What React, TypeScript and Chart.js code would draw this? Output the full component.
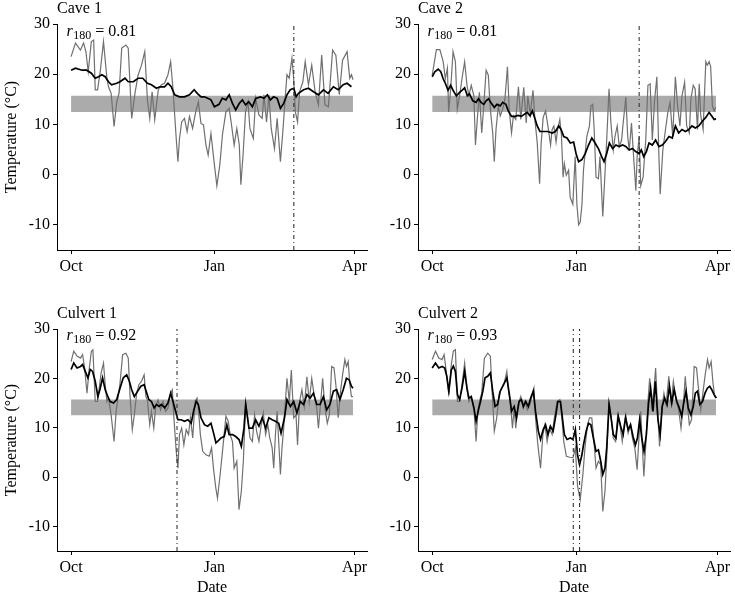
import React, { useEffect, useRef } from 'react';
import { Chart, registerables } from 'chart.js';

Chart.register(...registerables);

const FONT = '"Liberation Serif", "Times New Roman", serif';

// Days counted from 1 October; ticks and axis limits
const xTickDays = [0, 92, 182];
const xTickLabels = ['Oct', 'Jan', 'Apr'];
const yTicks = [-10, 0, 10, 20, 30];
const yLimits = [-15, 30];
const xLimits = [-9.05, 190.05];

// Shaded reference band (°C) and its day extent
const bandRange = [12.5, 15.7];
const bandDays = [0, 181];

// Correlation labels
const panelTitles = ['Cave 1', 'Cave 2', 'Culvert 1', 'Culvert 2'];
const rValues = ['0.81', '0.81', '0.92', '0.93'];

// Event days (dash-dot vertical lines)
const cave1Events = [143];
const cave2Events = [132];
const culvert1Events = [68];
const culvert2Events = [90, 94];

// Air temperature (grey) [day, °C]
const cave1Air: number[][] = [[0,23.5],[2.8,26.2],[6,24.8],[8,26.2],[9.5,24.5],[11,20.5],[13,26.5],[14.5,26.8],[15.5,16.9],[17,16.9],[18.7,20.5],[20.8,26.5],[23,19.2],[24,17.5],[25.7,16.2],[27.6,9.6],[29.3,14.5],[30.8,16.2],[32.5,25.2],[35.2,25.8],[36.7,25.2],[38.9,11.2],[41,16.2],[43,19.8],[45.2,21.8],[47.3,24.5],[49,14.9],[50.5,11.2],[52,16.5],[53.7,10.9],[56,16.9],[58,17.9],[60,18.2],[62.2,19.9],[63.9,22.5],[65.4,17.2],[67.5,7.2],[68.6,2.6],[69.6,7.2],[71,10.5],[72.8,11.2],[74.5,8.6],[76,11.6],[78,9.2],[80,12.5],[81.7,14.5],[83.4,10.2],[85,9.9],[86.6,5.9],[88,3.9],[89.8,8.2],[92,2],[93.6,-2.2],[95.5,2],[97.2,8],[99.4,12.5],[101.5,13.2],[103,9.9],[104.7,5.9],[106.4,9.2],[108,5.9],[109,-2],[110.4,3.9],[112,12.5],[113.6,14.5],[114.8,9.2],[117,7.2],[118.5,15.2],[120.6,11.9],[122.7,11.2],[123.8,15.9],[125.5,10.5],[127,15.9],[128.5,9.2],[130.6,5.2],[132.3,11.2],[134.4,2.6],[136.1,9.2],[137.6,15.9],[138.6,19.9],[140,19.2],[141.8,23.2],[142.9,19.2],[144,12.5],[145.4,10.5],[146.7,16.5],[148.8,18.5],[150.3,22.5],[152.4,17.9],[154.5,21.8],[156.7,16.5],[158.8,13.9],[160.9,23.8],[163,13.9],[165.2,13.5],[167.9,24.8],[170,23.8],[172.2,15.9],[174.3,22.8],[177.2,24.5],[178.9,19.2],[180,19.9],[181,18.9]];

const cave2Air: number[][] = [[0,19.8],[2.7,24.9],[4.9,24.9],[7,22.5],[8.4,19.1],[9.7,21.2],[10.5,12.5],[11.8,17.1],[13.3,24.5],[14.8,22.5],[16,13],[17.5,15.7],[19,19.1],[20.7,22.5],[22.2,17.8],[23.4,15.7],[24.9,17.8],[26.6,15.7],[27.6,5.9],[29.1,12.4],[30.1,16.4],[31.6,8.3],[32.9,13.7],[34.4,20.8],[35.8,19.8],[37.1,13],[38.6,8.3],[39.6,2.6],[40.7,9],[42.2,13.7],[43.4,11.7],[44.9,13],[46.4,15.1],[48,21.5],[49.1,13],[50.6,8.3],[51.8,11.7],[53.3,11],[55,17.5],[56.5,11],[58.4,17.4],[60,10.3],[61,15.7],[62.5,12],[64.3,16.8],[65.5,11],[67,6.3],[68.5,-1.8],[69.5,6.3],[70.8,11.4],[72.3,12.7],[73.8,9.7],[75.5,5.9],[76.5,9],[77.6,9.7],[79,6.5],[80,9],[81.4,11],[82.4,8],[83.5,-0.5],[84.3,2.2],[85.5,-0.1],[87,0.9],[88,-4.5],[89.7,-5.9],[91.2,3.6],[92.3,-6],[93.4,-10],[94.4,-9.5],[95.5,-6],[96.5,1],[98.6,7.6],[100.3,9.7],[101.2,13.7],[102.4,14],[103.3,9],[104.5,-0.5],[106,-0.8],[107,3.6],[108.8,-8.3],[110.2,0.2],[111.3,6.9],[112.8,17.1],[114,10.3],[115.5,4.9],[116.6,7.6],[118,9.7],[119.3,5.6],[120.8,6.9],[121.8,10.3],[123.5,15.4],[124.7,7.6],[125.7,4.9],[127.1,10.3],[128.6,2.9],[129.9,-3.2],[130.7,3.6],[132,7.6],[133,-2.2],[134.5,-0.5],[136.2,6.9],[137.6,17.8],[139,18.1],[140.4,6.9],[141.8,14.7],[143.3,19.5],[144.6,3.6],[145.4,-3.9],[147.1,4.9],[148.8,9],[150.3,12.4],[151.7,14.4],[153.4,7.6],[155.1,19.5],[156.5,13.7],[158,9.7],[159.3,15.7],[161,18.4],[162.3,9.7],[164,8.3],[165,15.1],[166.5,17.8],[167.7,17.1],[169.2,9],[170.3,18.1],[171.3,11.7],[172.8,9],[174.5,22.5],[175.5,21.8],[176.6,22.5],[177.6,21.5],[178.7,13.7],[179.8,12.7],[180.8,13.4]];

const culvert1Air: number[][] = [[0,23.4],[1.7,25.5],[3.8,24.5],[6,24.1],[7.4,24.8],[8.7,22.1],[10.2,17],[11.7,22.1],[13,25.5],[14,25.8],[15.5,15.3],[17,15.3],[18.3,18.7],[19.3,21.1],[20.8,23.1],[21.9,18.7],[23,15.3],[24,16],[25.7,12.6],[27.6,7.2],[28.9,13.3],[29.9,15.6],[31.4,19],[33.1,24.8],[35.2,25.1],[36.7,24.1],[37.8,16.7],[39.3,9.6],[40.6,12.6],[42,16.7],[43.5,18.7],[45.2,19.4],[46.9,20.7],[48,16.3],[49,15.6],[50.5,10.6],[51.6,13.3],[53.1,9.9],[54.3,14.3],[55.8,15.6],[57.5,13.6],[59,15.3],[60.7,13.3],[62.2,14],[63.9,17],[65,17.7],[66,12],[67.5,5.2],[68.6,1.8],[69.6,8.6],[71,9.9],[72.4,6.5],[73.9,9.6],[75.4,8.6],[76.6,12],[78.1,7.9],[79.6,15.3],[80.9,16],[81.7,14],[83,8.6],[84.5,5.2],[86.6,4.5],[88.7,4.2],[90.2,5.9],[91.4,1.8],[92.9,-2.2],[94,-4.3],[95.7,0.5],[97.2,5.2],[99.4,12.3],[100.9,11.3],[102.1,8.6],[103.6,7.2],[104.7,1.8],[106.4,3.2],[107.8,-6.6],[109.3,-2.9],[110.6,3.2],[112.1,15.3],[113.6,11.3],[114.9,7.9],[116.4,7.2],[117.8,12.6],[119.1,9.3],[120.6,7.2],[122.1,10.6],[123.4,13],[124.9,8.6],[126.3,10.6],[127.6,7.9],[129.1,5.9],[130.1,1.8],[131.2,8.6],[132.3,13.3],[133.3,7.2],[134.4,0.5],[135.4,5.9],[136.5,9.9],[137.6,15.3],[138.6,20],[140.1,15.3],[141.4,21.7],[142.9,12],[144.4,12.6],[145.4,6.5],[146.7,15.3],[148.2,17.7],[149.7,14.3],[151.4,20.3],[152.9,15.3],[154.5,20],[156,16.7],[157.7,14],[158.8,9.9],[160.3,15.3],[161.5,20],[163,14],[164.5,10.9],[165.8,12.6],[167.3,22.4],[168.8,22.1],[170,18.7],[171.5,12],[173,17.4],[174.3,20.7],[175.8,23.8],[176.8,22.4],[177.9,23.4],[179,18.7],[180,16.3],[181,16.3]];

const culvert2Air: number[][] = [[0,23.8],[2.1,25.5],[4.2,24.1],[6.3,23.8],[7.6,24.8],[9.1,21.1],[10.6,16.7],[12.2,22.8],[13.5,25.5],[14.8,25.8],[16.1,15.3],[17.5,15.3],[19,18.7],[20.7,23.1],[22.2,17.7],[23.4,15.3],[24.9,16.3],[26.6,14],[28,7.2],[29.1,13.3],[30.1,15.3],[31.6,17],[33.3,24.1],[35.4,25.1],[37.1,24.5],[38.2,17.4],[39.6,9.3],[41.1,11.9],[42.8,17],[44.3,18],[45.9,19],[47.6,21.4],[48.7,17.4],[49.7,15.7],[51.2,9.9],[52.3,14],[53.3,9.9],[54.8,14.7],[56.5,16.3],[58,14],[59.2,15.3],[60.7,13.6],[62.4,14.7],[63.9,16.7],[64.9,18],[65.9,12],[67.4,6.5],[69.1,1.8],[70.6,8.6],[71.9,10.6],[73.3,7.2],[74.8,9.9],[76.5,8.6],[77.9,12],[79.7,15.3],[81.4,15.7],[82.4,13.3],[83.9,7.2],[85.6,4.2],[87.7,4],[89.8,3.9],[91.3,5.9],[92.7,-1.8],[94.4,-4.6],[96.1,0.5],[97.6,6.5],[99.1,10.6],[100.3,12],[101.8,12],[102.8,8.6],[104.5,1.8],[106,3.2],[107.5,2.5],[108.8,-7],[110.2,-2.9],[111.3,3.9],[112.8,15.3],[114,12.6],[115.5,7.9],[117,7.2],[118.3,12.6],[119.8,10.6],[121.2,7.2],[122.5,10.6],[123.5,12.6],[125,8.9],[126.5,10.6],[127.7,7.9],[129.2,5.9],[130.7,1.5],[132,8.6],[133,13.3],[134,6.5],[135,0.1],[136.2,6.5],[137.6,15.3],[138.7,20],[140.1,14.3],[141.4,17.4],[142.5,22.1],[144,12],[145,6.2],[146.5,14],[147.8,17],[149.2,14.7],[150.9,20.4],[152.4,14.7],[153.8,19.4],[155.5,15.7],[157.2,13.6],[158.7,9.9],[160.2,14.7],[161.4,20.4],[162.9,14.3],[164,10.6],[165.4,11.6],[167.1,22.4],[168.6,22.1],[169.9,17.7],[171.3,13.6],[172.8,17.4],[174.1,20.7],[175.6,23.8],[176.6,22.1],[177.9,23.4],[179.1,19],[180.2,16.3],[181.2,16]];

// Roost temperature (black) [day, °C]
const cave1Roost: number[][] = [[0,20.8],[2.8,21.2],[7,20.8],[10,20.8],[13,20.2],[15.5,19.2],[17.6,19.5],[19.7,19.9],[21.9,19.5],[24,18.5],[26,17.9],[29.3,18.2],[31.4,18.5],[34.6,19.2],[36.7,18.5],[40,18.5],[43,19.2],[46,19.2],[49,18.2],[51.6,17.9],[54.8,17.2],[57,17.5],[60,17.5],[62.2,18.2],[64.3,17.5],[66.5,15.9],[69.6,15.5],[72.8,15.5],[76,15.9],[79,16.9],[81,16.2],[83.4,15.5],[85.6,15.5],[87.7,15.2],[89.8,14.9],[92,13.5],[95,14],[97,15.2],[99.4,14.9],[101.5,15.9],[103.6,14.2],[105.7,12.9],[108,14.2],[110,14.9],[112,13.9],[114,14.5],[116.4,13.5],[118.5,15.2],[121.6,15.5],[123.8,15.2],[126,15.9],[128,14.9],[130,15.5],[132.3,15.2],[134.4,13.2],[136.5,14.2],[138.6,15.9],[140.7,16.9],[143,17.2],[144.5,15.5],[146,16.2],[149.3,16.9],[152.4,17.2],[155.6,16.5],[158.8,15.9],[162,16.9],[165,16.2],[168.4,17.5],[171.5,16.9],[174.7,17.9],[177.2,18.2],[180,17.5]];

const cave2Roost: number[][] = [[0,19.5],[1.7,20.5],[3.8,21],[5.5,20.5],[7,19.1],[8.5,18.1],[10.1,16.8],[11.8,17.8],[13.3,16.8],[15.4,15.7],[17.5,16.4],[19,16.8],[20.7,17.3],[22.4,15.7],[23.8,16.1],[25.9,14.7],[28,14.4],[29.5,15.1],[31.2,14.4],[32.9,14],[34.4,14.7],[36,15.1],[37.5,14.3],[39.6,13.4],[41.3,14],[43.4,13.7],[44.9,14.4],[47,14],[48.5,12.7],[50.6,11.6],[52.7,11.6],[54.8,11.8],[56.9,11.6],[58.6,12],[60.7,12.4],[62.4,11.7],[63.9,12.7],[65.3,11.4],[67,9.7],[68.7,8.6],[71.2,8.6],[73.8,8.6],[76.5,8.3],[78.6,8.6],[80.7,9.7],[82.2,9],[83.9,7.6],[86,7.3],[88.1,6.3],[90.2,6.5],[91.9,4],[93.4,2.6],[95.5,3],[97.6,4.2],[99.7,5.9],[101.8,7.3],[103.9,6.3],[106,5.2],[108.1,3.6],[109.6,2.6],[111.3,4.2],[113,6.3],[115.1,5.2],[117.2,5.9],[119.3,5.6],[121.4,5.9],[123.5,5.6],[125.6,4.9],[127.7,5.2],[129.8,4.6],[132,4.2],[133.4,4.9],[134.9,3.6],[136.6,4.6],[138.3,6.3],[140.4,5.9],[142.5,6.9],[144.6,5.6],[146.7,5.9],[148.8,6.6],[151,7.6],[153.1,7.3],[155.1,9.7],[157.2,8.3],[159.3,9],[161.5,8.6],[163.6,9],[165.7,9.7],[167.8,9.3],[170,9.7],[172.4,10.7],[174.5,11.4],[176.6,12.4],[178.3,11.7],[179.8,11],[181,11.1]];

const culvert1Roost: number[][] = [[0,21.8],[1.7,23.1],[3.8,22.1],[6,22.4],[7.4,22.8],[9.1,21.4],[10.8,20.1],[12.3,21.8],[13.8,21.4],[15.5,19.4],[17.2,16.3],[18.7,18],[20.2,20.1],[21.9,17.7],[23.6,16.3],[25.1,15.3],[27.2,15],[29.3,15.7],[31.4,18],[33.5,20.1],[35.7,20.7],[37.4,19.4],[38.9,17.7],[40.6,16.3],[42.7,17.4],[44.8,18.4],[46.9,18.7],[48.6,17],[49.9,15.7],[51.6,15.3],[53.3,14],[54.8,14.7],[56.5,14.3],[58,14.7],[60.1,14],[62.2,15],[63.9,17],[65.4,15.3],[66.9,13.6],[68.6,11.6],[70.7,11.6],[72.8,11.3],[75,11.6],[77.1,10.9],[78.8,13.6],[80.3,15.3],[81.7,14.7],[83.4,12],[85.6,10.6],[87.7,10.3],[89.8,10.9],[91.5,8.9],[93,6.9],[94,7.2],[96.2,7.9],[98.3,8.2],[100,10.6],[101.5,8.6],[103.6,8.6],[105.7,8.2],[107.8,7.6],[109.3,6.2],[111,9.9],[112.1,14.7],[114.2,9.9],[116.4,9.9],[118.5,11.6],[120.6,10.3],[122.7,12],[124.9,9.9],[127,12],[129.1,11.6],[131.2,11.3],[133.3,10.9],[134.8,8.9],[137,12],[138.6,15.7],[140.8,14.3],[142.9,15.3],[145,13],[147.1,15.3],[149.3,14.7],[151.4,16.7],[153.5,16],[155.6,17],[157.7,14.7],[159.8,14.7],[162,16.3],[164.1,13.6],[166.2,14.7],[168.4,17.4],[170.5,17.7],[172.6,15.7],[174.7,17.7],[176.8,20],[178.5,19.7],[180,18.4],[181,18]];

const culvert2Roost: number[][] = [[0,22.1],[2.1,23.1],[4.2,22.1],[6.3,22.4],[8,22.1],[9.3,20.4],[10.6,17.4],[12.2,21.7],[13.5,22.5],[14.8,21.4],[16.1,16.7],[17.5,15.7],[19,18],[20.7,21.4],[22.2,18],[23.4,16],[24.9,16.3],[26.6,14],[28,11.3],[29.5,13.6],[30.8,15.3],[32.3,17.4],[33.7,20.1],[35.4,20.4],[37.1,21.1],[38.6,17.4],[40.1,14.3],[41.7,14.7],[43.4,17.4],[45.5,18.7],[47.6,20.1],[49.1,17],[50.6,13.3],[52.3,14.3],[53.7,12],[55.4,15.3],[56.9,15.7],[58.2,14.3],[59.6,15.3],[61.3,14.3],[62.8,16],[64.5,17.4],[65.9,13.3],[67.7,9.3],[69.1,7.6],[70.8,9.6],[72.3,10.6],[73.8,8.6],[75.4,10.3],[77.1,9.3],[78.6,12],[80.1,15.3],[81.8,15.3],[82.8,12.6],[84.3,8.6],[86,7.6],[88.1,7.9],[89.8,7.6],[91.3,9.6],[92.7,4.5],[94,2.5],[95.5,4.5],[96.5,6.5],[98.2,9.3],[99.7,10.9],[101.2,10.6],[102.8,7.9],[104.5,5.2],[106,5.5],[107.5,3.2],[108.8,0.5],[110.2,1.8],[111.3,5.9],[112.8,14.7],[114.1,12],[115.5,8.6],[117.2,7.9],[118.7,12.3],[120.2,10.3],[121.8,8.6],[123.3,12],[125,9.6],[126.5,10.6],[128.1,8.2],[129.6,6.5],[130.9,7.9],[132.3,11.6],[133.8,7.6],[135.1,5.2],[136.6,8.6],[138,15],[139.3,18],[140.8,13.3],[142.3,19.4],[144,11.6],[145.4,8.6],[146.7,14.3],[148.2,16],[149.8,14.7],[151.3,18.4],[152.8,15],[154.3,17.7],[156,15.3],[157.6,14],[159.1,12.3],[160.4,15],[161.9,17.4],[163.3,14],[165,12.6],[166.5,14.3],[167.8,17],[169.2,17.4],[170.7,14.7],[172.4,15.3],[174,17],[175.5,18],[177,18.4],[178.3,17.7],[179.8,16.7],[181.2,16]];

const airSeries = [cave1Air, cave2Air, culvert1Air, culvert2Air];
const roostSeries = [cave1Roost, cave2Roost, culvert1Roost, culvert2Roost];
const eventSeries = [cave1Events, cave2Events, culvert1Events, culvert2Events];

// Layout (pixels) for each panel canvas
const layouts = [
  { left: 0, top: 0, width: 370, height: 290, yAxisW: 57, xAxisH: 40, padTop: 24, yTitle: true, xTitle: false },
  { left: 368, top: 0, width: 365, height: 290, yAxisW: 50, xAxisH: 40, padTop: 24, yTitle: false, xTitle: false },
  { left: 0, top: 295, width: 370, height: 302, yAxisW: 57, xAxisH: 46, padTop: 34, yTitle: true, xTitle: true },
  { left: 368, top: 295, width: 365, height: 302, yAxisW: 50, xAxisH: 46, padTop: 34, yTitle: false, xTitle: true },
];

const toPts = (arr: number[][]) => arr.map(([x, y]) => ({ x, y }));

const panelTextPlugin = {
  id: 'panelText',
  afterDraw(chart: any, _args: any, opts: any) {
    const { ctx, chartArea, scales } = chart;
    ctx.save();
    ctx.fillStyle = '#000';
    ctx.textBaseline = 'alphabetic';
    ctx.textAlign = 'left';
    ctx.font = `16px ${FONT}`;
    ctx.fillText(opts.title, chartArea.left, chartArea.top - 11);
    const x0 = scales.x.getPixelForValue(-3);
    const y0 = scales.y.getPixelForValue(27.7);
    ctx.font = `italic 16px ${FONT}`;
    ctx.fillText('r', x0, y0);
    let x = x0 + ctx.measureText('r').width + 0.5;
    ctx.font = `12px ${FONT}`;
    ctx.fillText('180', x, y0 + 3);
    x += ctx.measureText('180').width;
    ctx.font = `16px ${FONT}`;
    ctx.fillText(' = ' + opts.r, x, y0);
    ctx.restore();
  },
};

function Panel({ idx }: { idx: number }) {
  const ref = useRef<HTMLCanvasElement>(null);
  const L = layouts[idx];
  useEffect(() => {
    if (!ref.current) return;
    const datasets: any[] = [];
    eventSeries[idx].forEach((d) => {
      datasets.push({
        data: [{ x: d, y: yLimits[0] }, { x: d, y: yLimits[1] }],
        borderColor: '#333333', borderWidth: 1.1, borderDash: [4, 3, 1, 3],
        pointRadius: 0, fill: false, order: 0,
      });
    });
    datasets.push({
      data: toPts(roostSeries[idx]), borderColor: '#000000', borderWidth: 1.7,
      pointRadius: 0, fill: false, tension: 0, order: 1,
    });
    datasets.push({
      data: toPts(airSeries[idx]), borderColor: '#707070', borderWidth: 1.2,
      pointRadius: 0, fill: false, tension: 0, order: 2,
    });
    datasets.push({
      data: [{ x: bandDays[0], y: bandRange[1] }, { x: bandDays[1], y: bandRange[1] }],
      borderColor: 'transparent', borderWidth: 0.01, backgroundColor: '#ababab',
      pointRadius: 0, fill: '+1', order: 3,
    });
    datasets.push({
      data: [{ x: bandDays[0], y: bandRange[0] }, { x: bandDays[1], y: bandRange[0] }],
      borderColor: 'transparent', borderWidth: 0.01,
      pointRadius: 0, fill: false, order: 4,
    });

    const chart = new Chart(ref.current, {
      type: 'line',
      data: { datasets },
      plugins: [panelTextPlugin],
      options: {
        animation: false,
        responsive: false,
        events: [],
        layout: { padding: { top: L.padTop, left: 0, right: 0, bottom: 0 } },
        plugins: {
          legend: { display: false },
          tooltip: { enabled: false },
          title: { display: false },
          panelText: { title: panelTitles[idx], r: rValues[idx] },
        } as any,
        scales: {
          x: {
            type: 'linear',
            min: xLimits[0],
            max: xLimits[1],
            afterBuildTicks: (s: any) => { s.ticks = xTickDays.map((v) => ({ value: v })); },
            afterFit: (s: any) => { s.height = L.xAxisH; },
            ticks: {
              callback: (v: any) => { const i = xTickDays.indexOf(Number(v)); return i >= 0 ? xTickLabels[i] : ''; },
              color: '#000', font: { family: FONT, size: 16 }, padding: 3, maxRotation: 0, autoSkip: false,
            },
            grid: { display: true, drawOnChartArea: false, drawTicks: true, tickLength: 4, color: '#000' },
            border: { display: true, color: '#000', width: 1 },
            title: { display: L.xTitle, text: 'Date', color: '#000', font: { family: FONT, size: 16 }, padding: { top: 0, bottom: 0 } },
          },
          y: {
            type: 'linear',
            min: yLimits[0],
            max: yLimits[1],
            afterBuildTicks: (s: any) => { s.ticks = yTicks.map((v) => ({ value: v })); },
            afterFit: (s: any) => { s.width = L.yAxisW; },
            ticks: {
              callback: (v: any) => String(v),
              color: '#000', font: { family: FONT, size: 16 }, padding: 3,
            },
            grid: { display: true, drawOnChartArea: false, drawTicks: true, tickLength: 4, color: '#000' },
            border: { display: true, color: '#000', width: 1 },
            title: { display: L.yTitle, text: 'Temperature (°C)', color: '#000', font: { family: FONT, size: 16 }, padding: { top: 2, bottom: 0 } },
          },
        },
      } as any,
    });
    return () => chart.destroy();
  }, [idx]);
  return (
    <canvas
      ref={ref}
      width={L.width}
      height={L.height}
      style={{ position: 'absolute', left: L.left, top: L.top, width: L.width, height: L.height }}
    />
  );
}

export default function App() {
  return (
    <div style={{ position: 'absolute', left: 0, top: 0, width: 735, height: 597, background: '#fff' }}>
      {[0, 1, 2, 3].map((i) => <Panel key={i} idx={i} />)}
    </div>
  );
}
